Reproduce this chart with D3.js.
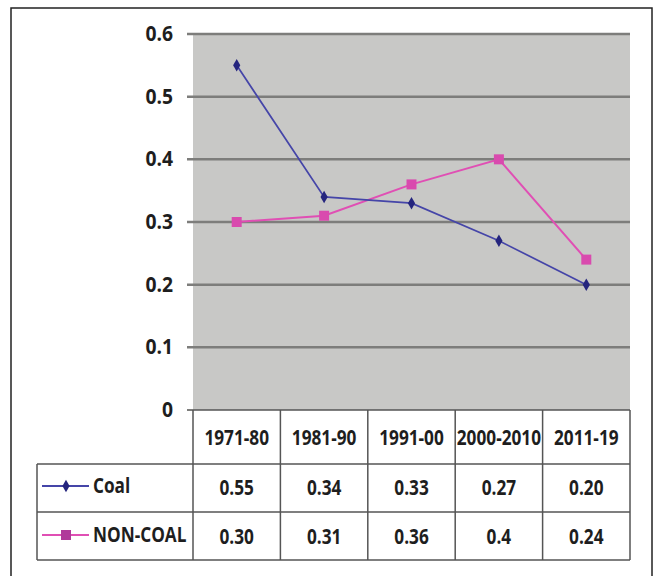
<!DOCTYPE html>
<html lang="en">
<head>
    <meta charset="UTF-8">
    <script src="https://d3js.org/d3.v7.min.js"></script>
    <title>Coal vs Non-coal</title>
    <style>
        body { margin: 0; background: #fff; }
        svg text { font-family: "Open Sans", "Liberation Sans", sans-serif; font-weight: bold; fill: #1e1e1e; }
    </style>
</head>
<body>
<svg class="chart"></svg>

<script>
    let periods = ['1971-80', '1981-90', '1991-00', '2000-2010', '2011-19'];
    let coal = [0.55, 0.34, 0.33, 0.27, 0.20];
    let nonCoal = [0.30, 0.31, 0.36, 0.40, 0.24];
    let coalLabels = ['0.55', '0.34', '0.33', '0.27', '0.20'];
    let nonCoalLabels = ['0.30', '0.31', '0.36', '0.4', '0.24'];
    let yTicks = [0, 0.1, 0.2, 0.3, 0.4, 0.5, 0.6];

    let width = 655, height = 576;
    let svg = d3.select('.chart').attr('width', width).attr('height', height);

    // narrow-ish text, squeezed a bit to look like the original font
    function label(x, y, txt, anchor, size, squeeze) {
        return svg.append('text')
            .attr('transform', 'translate(' + x + ',' + y + ') scale(' + squeeze + ',1)')
            .attr('text-anchor', anchor)
            .style('font-size', size + 'px')
            .text(txt);
    }

    // outer frame
    svg.append('rect')
        .attr('x', 11).attr('y', 8).attr('width', 641).attr('height', 580)
        .style('fill', '#fff').style('stroke', '#222').style('stroke-width', 1.5);

    var x_range = d3.scaleBand()
        .domain(periods)
        .range([193, 630]);

    var y_range = d3.scaleLinear()
        .domain([0, 0.6])
        .range([410, 34]);

    // plot area
    svg.append('rect')
        .attr('x', 193).attr('y', y_range(0.6))
        .attr('width', 437).attr('height', y_range(0) - y_range(0.6))
        .style('fill', '#c8c8c6');

    // gridlines
    svg.selectAll('.grid')
        .data(yTicks.slice(1))
        .enter()
        .append('line')
        .attr('class', 'grid')
        .attr('x1', 187).attr('x2', 630)
        .attr('y1', d => y_range(d)).attr('y2', d => y_range(d))
        .style('stroke', '#7d7d7b').style('stroke-width', 2.5);

    svg.append('line')
        .attr('x1', 187).attr('x2', 193)
        .attr('y1', y_range(0)).attr('y2', y_range(0))
        .style('stroke', '#7d7d7b').style('stroke-width', 2);

    // y tick labels
    yTicks.forEach(function (d) {
        label(173, y_range(d) + 7, d === 0 ? '0' : d.toFixed(1), 'end', 21, 0.92);
    });

    let cx = d => x_range(d) + x_range.bandwidth() / 2;

    let line = d3.line()
        .x((d, i) => cx(periods[i]))
        .y(d => y_range(d));

    let coalColor = '#4545a8', nonCoalColor = '#e04fb4';

    svg.append('path').datum(nonCoal)
        .attr('d', line)
        .style('fill', 'none').style('stroke', nonCoalColor).style('stroke-width', 2);
    svg.append('path').datum(coal)
        .attr('d', line)
        .style('fill', 'none').style('stroke', coalColor).style('stroke-width', 1.7);

    svg.selectAll('.sq')
        .data(nonCoal)
        .enter()
        .append('rect')
        .attr('class', 'sq')
        .attr('x', (d, i) => cx(periods[i]) - 5)
        .attr('y', d => y_range(d) - 5)
        .attr('width', 10).attr('height', 10)
        .style('fill', '#d94aae');

    svg.selectAll('.dia')
        .data(coal)
        .enter()
        .append('path')
        .attr('class', 'dia')
        .attr('transform', (d, i) => 'translate(' + cx(periods[i]) + ',' + y_range(d) + ')')
        .attr('d', d3.symbol().type(d3.symbolDiamond).size(45))
        .style('fill', '#25257e');

    // data table
    let rows = [464, 512, 560];
    let tableTop = 410;
    let gridColor = '#555';

    svg.append('line').attr('x1', 193).attr('x2', 630).attr('y1', tableTop).attr('y2', tableTop)
        .style('stroke', gridColor).style('stroke-width', 1.5);
    svg.selectAll('.hrow')
        .data(rows)
        .enter()
        .append('line')
        .attr('class', 'hrow')
        .attr('x1', 37).attr('x2', 630)
        .attr('y1', d => d).attr('y2', d => d)
        .style('stroke', gridColor).style('stroke-width', 1.5);

    let colEdges = periods.map(p => x_range(p)).concat([630]);
    svg.selectAll('.vcol')
        .data(colEdges)
        .enter()
        .append('line')
        .attr('class', 'vcol')
        .attr('x1', d => d).attr('x2', d => d)
        .attr('y1', tableTop).attr('y2', rows[2])
        .style('stroke', gridColor).style('stroke-width', 1.5);
    svg.append('line').attr('x1', 37).attr('x2', 37).attr('y1', rows[0]).attr('y2', rows[2])
        .style('stroke', gridColor).style('stroke-width', 1.5);

    periods.forEach(function (p) {
        label(cx(p), 445, p, 'middle', 21, 0.82);
    });
    coalLabels.forEach(function (t, i) {
        label(cx(periods[i]), 495, t, 'middle', 21, 0.82);
    });
    nonCoalLabels.forEach(function (t, i) {
        label(cx(periods[i]), 544, t, 'middle', 21, 0.82);
    });

    // legend keys
    function legendKey(y, color, name, square) {
        svg.append('line').attr('x1', 42).attr('x2', 89).attr('y1', y).attr('y2', y)
            .style('stroke', color).style('stroke-width', 2);
        if (square) {
            svg.append('rect').attr('x', 61).attr('y', y - 5).attr('width', 10).attr('height', 10)
                .style('fill', '#b03a9a');
        } else {
            svg.append('path').attr('transform', 'translate(66,' + y + ')')
                .attr('d', d3.symbol().type(d3.symbolDiamond).size(45))
                .style('fill', '#25257e');
        }
        label(93, y + 7, name, 'start', 21, 0.82);
    }
    legendKey(486, coalColor, 'Coal', false);
    legendKey(535, nonCoalColor, 'NON-COAL', true);
</script>
</body>
</html>
